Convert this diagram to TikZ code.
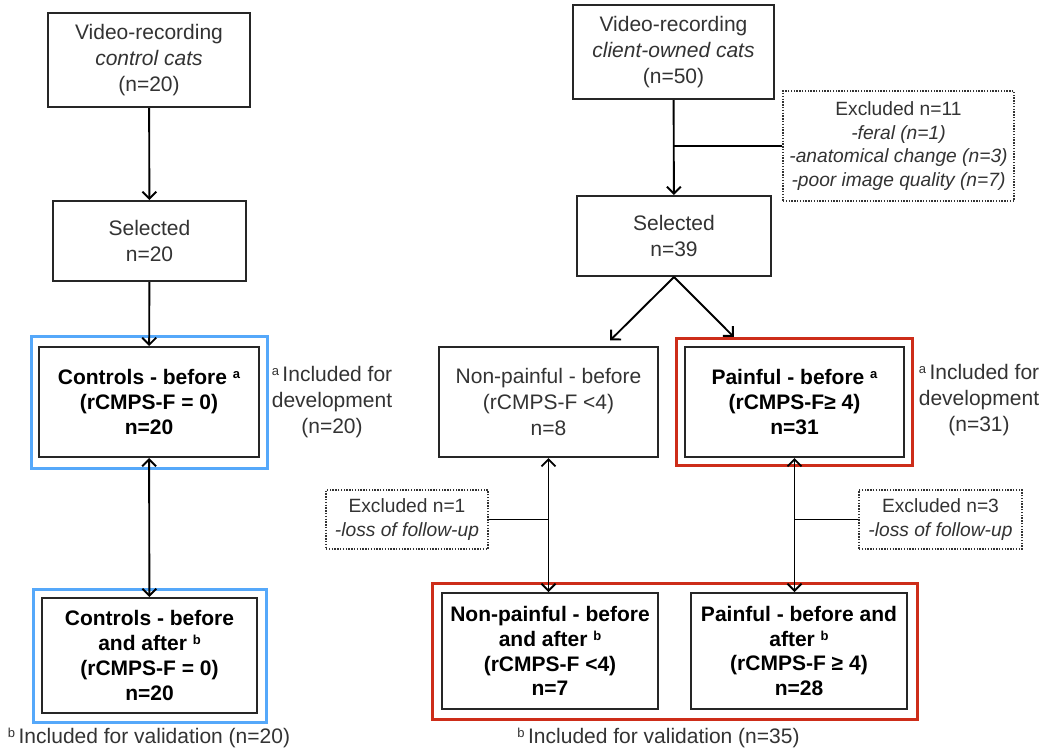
\documentclass[tikz,border=0pt]{standalone}
\usepackage{fontspec}
\setmainfont{Liberation Sans}
\usepackage{tikz}
\usetikzlibrary{arrows.meta, positioning, fit}
\definecolor{azulCtrl}{RGB}{85, 168, 250}
\definecolor{vermPain}{RGB}{205, 45, 25}
\newcommand{\fnmark}[1]{\raisebox{0.55ex}{\fontsize{6.5}{6.5}\selectfont #1}}

\begin{document}
\begin{tikzpicture}[
            x=0.5pt, y=-0.5pt,
            every node/.style={font=\fontsize{10.5}{12.8}\selectfont, align=center, text=black!80},
            box/.style={rectangle, draw=black!85, line width=1pt, inner sep=0pt},
            boldbox/.style={box, font=\fontsize{10.5}{12.4}\selectfont\bfseries, text=black},
            exclbox/.style={rectangle, draw=black!80, line width=0.7pt, dash pattern=on 0.7pt off 0.7pt, inner sep=0pt, font=\fontsize{9.6}{11.7}\selectfont},
            note/.style={inner sep=0pt},
            bluefr/.style={draw=azulCtrl, line width=1.5pt, inner sep=4pt},
            redfr/.style={draw=vermPain, line width=1.5pt, inner sep=3.8pt},
            arrow/.style={-{Straight Barb[length=3.5pt, width=7pt]}, line width=0.95pt},
            dblarrow/.style={{Straight Barb[length=3.5pt, width=7pt]}-{Straight Barb[length=3.5pt, width=7pt]}, line width=0.95pt},
            link/.style={line width=0.95pt}
        ]
            \path[use as bounding box, fill=white] (0,0) rectangle (1041,750);
            % control cats
            \node[box, minimum width=101pt, minimum height=47pt] (vidctl) at (149,60) {Video-recording\\\textit{control cats}\\(n=20)};
            \node[box, minimum width=96.5pt, minimum height=40pt] (selctl) at (149.5,241) {Selected\\n=20};
            \node[boldbox, minimum width=110pt, minimum height=55pt] (ctlbefore) at (149,402) {Controls - before \fnmark{a}\\(rCMPS-F = 0)\\n=20};
            \node[boldbox, minimum width=107.5pt, minimum height=57.5pt] (ctlafter) at (149.5,655.5) {Controls - before\\and after \fnmark{b}\\(rCMPS-F = 0)\\n=20};
            \node[bluefr, inner xsep=3.5pt, inner ysep=5pt, fit=(ctlbefore)] (ctlbeforefr) {};
            \node[bluefr, fit=(ctlafter)] (ctlafterfr) {};
            \node[note] (notedev1) at (332,402) {\fnmark{a}\,Included for\\development\\(n=20)};
            \node[note] (noteval1) at (149,738) {\fnmark{b}\,Included for validation (n=20)};
            % client-owned cats
            \node[box, minimum width=100.5pt, minimum height=47pt] (vidown) at (673.5,52) {Video-recording\\\textit{client-owned cats}\\(n=50)};
            \node[exclbox, minimum width=115.5pt, minimum height=55pt] (exclown) at (898.5,146) {Excluded n=11\\\textit{-feral (n=1)}\\\textit{-anatomical change (n=3)}\\\textit{-poor image quality (n=7)}};
            \node[box, minimum width=97pt, minimum height=40pt] (selown) at (674,236) {Selected\\n=39};
            \node[box, minimum width=109.5pt, minimum height=55pt] (npbefore) at (548.5,402) {Non-painful - before\\(rCMPS-F <4)\\n=8};
            \node[boldbox, minimum width=109.5pt, minimum height=55pt] (pbefore) at (794.5,402) {Painful - before \fnmark{a}\\(rCMPS-F≥ 4)\\n=31};
            \node[redfr, fit=(pbefore)] (pbeforefr) {};
            \node[note] (notedev2) at (979,400) {\fnmark{a}\,Included for\\development\\(n=31)};
            \node[exclbox, minimum width=81pt, minimum height=29.5pt] (excl1) at (407,519.5) {Excluded n=1\\\textit{-loss of follow-up}};
            \node[exclbox, minimum width=81.5pt, minimum height=29.5pt] (excl3) at (940.5,519.5) {Excluded n=3\\\textit{-loss of follow-up}};
            \node[boldbox, minimum width=108pt, minimum height=58pt] (npafter) at (550,651) {Non-painful - before\\and after \fnmark{b}\\(rCMPS-F <4)\\n=7};
            \node[boldbox, minimum width=108pt, minimum height=58pt] (pafter) at (799,651) {Painful - before and\\after \fnmark{b}\\(rCMPS-F ≥ 4)\\n=28};
            \node[redfr, inner sep=4.5pt, fit=(npafter)(pafter)] (afterfr) {};
            \node[note] (noteval2) at (658.5,738) {\fnmark{b}\,Included for validation (n=35)};
            % connectors
            \draw[arrow] (vidctl) -- (selctl);
            \draw[arrow] (selctl) -- (ctlbefore);
            \draw[dblarrow] (ctlbefore) -- (ctlafter);
            \draw[arrow] (vidown) -- (selown);
            \draw[link] (exclown.west) -- (exclown.west -| vidown.south);
            \draw[arrow, shorten >=4pt] (selown.south) -- (npbefore.45);
            \draw[arrow] (selown.south) -- (pbeforefr.133);
            \draw[dblarrow] (npbefore.south) -- (npbefore.south |- npafter.north);
            \draw[dblarrow] (pbefore.south) -- (pbefore.south |- pafter.north);
            \draw[link] (excl1.east) -- (excl1.east -| npbefore.south);
            \draw[link] (excl3.west) -- (excl3.west -| pbefore.south);
        \end{tikzpicture}
\end{document}
